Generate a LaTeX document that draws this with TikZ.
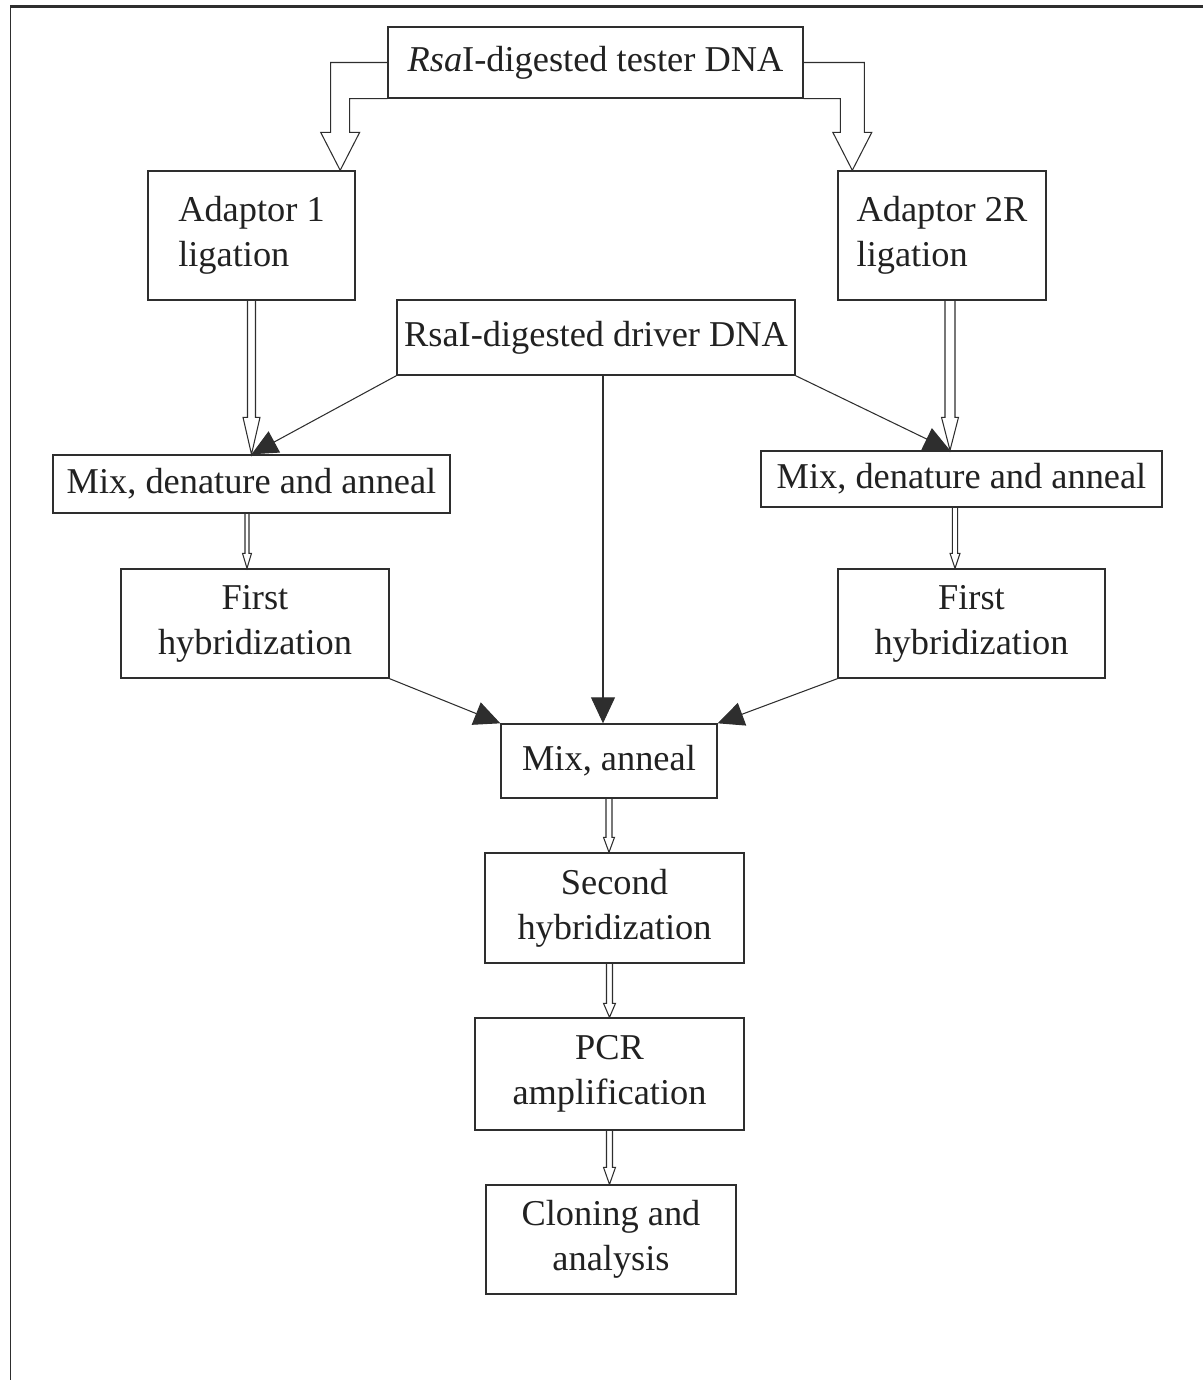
\documentclass[tikz,border=0pt]{standalone}
\usepackage{fontspec}
\setmainfont{Liberation Serif}
\usetikzlibrary{calc,arrows.meta}
\definecolor{linegray}{gray}{0.18}
\definecolor{textgray}{gray}{0.13}

\tikzset{
  box/.style={draw=linegray, line width=0.8pt, inner sep=0pt, align=center,
    text=textgray, font=\fontsize{20.7}{25.6}\selectfont},
  feed/.style={draw=linegray, line width=0.6pt, -{Triangle[length=0.52cm,width=0.48cm]}},
  hollow/.style={draw=linegray, line width=0.6pt, line join=miter}
}

% block arrow pointing down: start, tip, half shaft, half head, head length
\newcommand\hollowarrow[5]{%
  \draw[hollow] ($(#1)+(-#3,0)$) -- ($(#2)+(-#3,-#5)$) -- ($(#2)+(-#4,-#5)$) -- (#2)
    -- ($(#2)+(#4,-#5)$) -- ($(#2)+(#3,-#5)$) -- ($(#1)+(#3,0)$);}

\begin{document}
\begin{tikzpicture}[x=0.02cm,y=-0.02cm]
  \useasboundingbox (0,0) rectangle (1203,1380);
  % frame
  \draw[linegray, line width=1.2pt] (10,6.5) -- (1203,6.5);
  \draw[linegray, line width=0.5pt] (10,6.5) -- (10,1380);

  % boxes
  \node[box, minimum width=8.30cm, minimum height=1.42cm] (tester) at (595.5,62.5) {\textit{Rsa}I-digested tester DNA};
  \node[box, align=left, minimum width=4.14cm, minimum height=2.58cm] (ad1) at (251.5,235.5) {Adaptor 1\\ligation};
  \node[box, align=left, minimum width=4.16cm, minimum height=2.58cm] (ad2) at (942,235.5) {Adaptor 2R\\ligation};
  \node[box, minimum width=7.96cm, minimum height=1.50cm] (driver) at (596,337.5) {RsaI-digested driver DNA};
  \node[box, minimum width=7.94cm, minimum height=1.16cm] (mixL) at (251.5,484) {Mix, denature and anneal};
  \node[box, minimum width=8.02cm, minimum height=1.12cm] (mixR) at (961.5,479) {Mix, denature and anneal};
  \node[box, minimum width=5.36cm, minimum height=2.18cm] (firstL) at (255,623.5) {First\\hybridization};
  \node[box, minimum width=5.34cm, minimum height=2.18cm] (firstR) at (971.5,623.5) {First\\hybridization};
  \node[box, minimum width=4.32cm, minimum height=1.48cm] (mixann) at (609,761) {Mix, anneal};
  \node[box, minimum width=5.18cm, minimum height=2.20cm] (second) at (614.5,908) {Second\\hybridization};
  \node[box, minimum width=5.38cm, minimum height=2.24cm] (pcr) at (609.5,1074) {PCR\\amplification};
  \node[box, minimum width=5.00cm, minimum height=2.18cm] (cloning) at (611,1239.5) {Cloning and\\analysis};

  % tester to adaptors
  \coordinate (tipA) at ($(ad1.north east)+(-15.5,0)$);
  \coordinate (tipB) at ($(ad2.north west)+(15,0)$);
  \draw[hollow] (tester.west) -| ($(tipA)+(-9.5,-38)$) -- ($(tipA)+(-19.5,-38)$) -- (tipA)
    -- ($(tipA)+(19.5,-38)$) -- ($(tipA)+(9.5,-38)$) -- ($(tipA |- tester.south)+(9.5,0)$)
    -- (tester.south west);
  \draw[hollow] (tester.east) -| ($(tipB)+(12,-38)$) -- ($(tipB)+(19.5,-38)$) -- (tipB)
    -- ($(tipB)+(-19.5,-38)$) -- ($(tipB)+(-12,-38)$) -- ($(tipB |- tester.south)+(-12,0)$)
    -- (tester.south east);

  % block arrows down the chain
  \coordinate (s1) at (ad1.south);
  \coordinate (t1) at (s1 |- mixL.north);
  \coordinate (s2) at ($(ad2.south)+(8,0)$);
  \coordinate (t2) at (s2 |- mixR.north);
  \coordinate (s3) at ($(mixL.south)+(-4.5,0)$);
  \coordinate (t3) at (s3 |- firstL.north);
  \coordinate (s4) at ($(mixR.south)+(-6.5,0)$);
  \coordinate (t4) at (s4 |- firstR.north);
  \coordinate (s5) at (mixann.south);
  \coordinate (t5) at (s5 |- second.north);
  \coordinate (s6) at ($(second.south)+(-5,0)$);
  \coordinate (t6) at (s6 |- pcr.north);
  \coordinate (s7) at (pcr.south);
  \coordinate (t7) at (s7 |- cloning.north);
  \hollowarrow{s1}{t1}{4}{8.5}{37}
  \hollowarrow{s2}{t2}{5}{8.5}{33}
  \hollowarrow{s3}{t3}{2}{4.5}{15}
  \hollowarrow{s4}{t4}{2.7}{5}{15}
  \hollowarrow{s5}{t5}{3}{5.5}{15}
  \hollowarrow{s6}{t6}{3}{6}{14}
  \hollowarrow{s7}{t7}{3}{6}{17}

  % driver DNA and first hybridizations
  \coordinate (dmid) at ($(driver.south)+(7,0)$);
  \draw[feed] (driver.south west) -- (t1);
  \draw[feed] (driver.south east) -- (t2);
  \draw[feed] (dmid) -- (dmid |- mixann.north);
  \draw[feed] (firstL.south east) -- (mixann.north west);
  \draw[feed] (firstR.south west) -- (mixann.north east);
\end{tikzpicture}
\end{document}
